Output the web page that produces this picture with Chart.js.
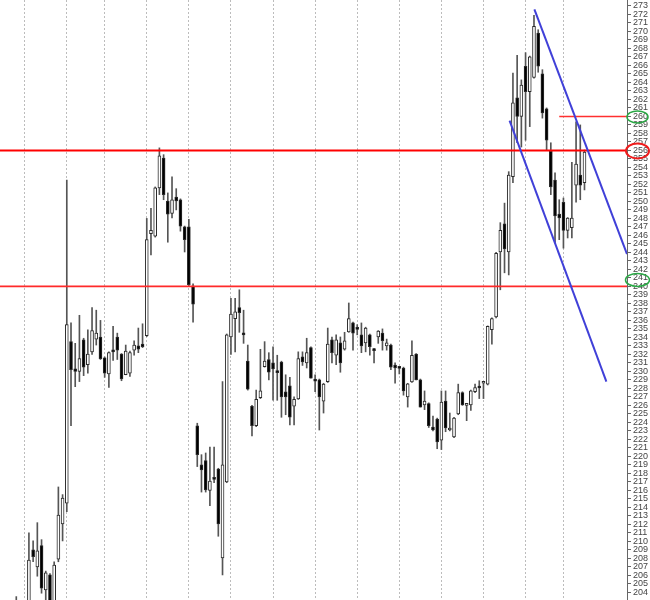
<!DOCTYPE html>
<html><head><meta charset="utf-8">
<script src="https://cdn.jsdelivr.net/npm/chart.js@4.4.1/dist/chart.umd.min.js"></script>
<style>html,body{margin:0;padding:0;background:#fff}#wrap{width:650px;height:600px;position:relative}</style>
</head><body><div id="wrap"><canvas id="c" width="650" height="600"></canvas></div>
<script>
// ---- data ----
const opens  = [199.0,198.5,200.2,201.5,202.0,200.5,202.0,209.0,207.0,209.5,204.3,206.05,202.8,207.9,212.05,214.5,233.5,230.3,230.0,233.7,230.8,232.3,233.8,234.05,231.6,229.7,232.5,234.05,232.05,229.6,229.8,232.5,233.0,233.2,234.2,246.2,245.9,251.6,255.1,250.05,248.6,250.5,250.2,247.0,247.0,240.05,223.6,219.0,219.5,216.0,217.5,218.5,208.05,217.0,234.05,236.2,237.5,234.5,231.2,225.9,223.6,226.9,230.55,231.4,231.0,229.95,231.1,227.6,228.3,225.9,226.75,231.7,231.0,232.8,228.95,229.0,226.5,228.8,233.7,231.9,233.35,232.6,234.65,235.7,235.05,234.3,233.35,234.3,232.55,234.05,234.5,233.0,233.1,230.75,230.45,230.4,227.0,228.75,232.05,229.0,226.05,226.2,223.45,224.4,221.9,226.5,223.1,222.3,225.0,227.5,226.0,226.05,227.6,228.2,228.6,228.5,234.9,236.4,244.05,247.35,244.05,252.9,262.2,260.0,265.9,262.9,264.6,269.8,265.0,260.9,255.9,252.5,248.5,249.9,246.6,246.9,251.9,253.1,252.2];
const highs  = [200.5,201.0,202.5,203.5,202.8,202.6,211.0,210.05,212.2,210.2,206.5,206.2,207.6,216.4,215.5,252.5,235.7,233.3,236.6,233.9,234.9,237.5,237.2,236.0,231.7,232.3,235.3,234.5,232.1,233.1,232.4,233.6,235.1,235.6,248.0,249.2,251.7,256.3,255.5,251.0,252.9,251.5,250.3,247.1,247.9,240.3,223.9,220.2,220.4,221.1,221.1,218.6,228.8,234.4,238.6,238.6,239.6,237.2,233.1,226.0,227.8,232.6,233.5,232.2,232.9,231.9,231.2,229.6,229.3,227.0,232.3,232.3,233.9,232.9,229.6,229.1,228.6,235.1,234.05,234.3,234.05,234.6,238.05,235.8,235.5,235.7,235.2,234.4,232.7,234.8,235.0,233.8,233.2,231.0,230.5,230.5,228.6,233.6,232.1,229.1,227.7,226.3,224.75,224.5,227.7,227.7,225.1,224.6,228.5,227.6,226.1,227.8,228.5,228.9,228.7,235.35,236.3,244.0,247.5,249.8,253.5,265.1,267.2,264.3,267.5,267.1,271.9,270.2,265.5,261.0,256.9,253.35,250.2,250.4,248.1,254.6,259.35,259.0,256.05];
const lows   = [197.5,197.8,199.0,200.5,199.5,199.8,201.5,207.6,205.9,203.9,202.9,202.0,202.3,207.6,210.05,213.5,223.6,228.2,228.8,229.5,229.8,232.0,233.1,231.4,229.3,228.1,231.3,231.4,228.9,229.6,229.4,231.9,232.2,232.8,234.1,243.7,245.8,250.8,250.2,245.2,248.05,249.0,246.5,244.05,240.1,235.8,218.8,215.8,215.8,214.2,216.9,210.6,206.05,216.9,232.0,232.3,234.6,233.3,227.8,222.4,223.5,226.8,230.5,229.0,226.6,226.6,224.6,224.9,223.7,223.7,226.7,230.7,230.4,229.2,227.6,223.1,225.1,228.7,231.0,230.8,229.9,232.5,234.6,232.5,234.3,232.2,232.3,231.9,231.0,233.3,232.5,232.5,230.2,228.6,229.7,227.2,225.8,228.7,229.0,225.8,225.5,223.4,223.0,220.9,220.8,222.9,223.0,222.2,224.9,226.0,224.2,225.4,227.5,226.8,226.8,228.4,233.2,236.3,239.6,241.6,241.35,252.2,256.9,256.4,257.2,258.8,264.5,265.2,259.8,256.05,250.8,245.1,245.5,244.5,245.7,245.7,249.9,250.2,251.35];
const closes = [198.5,200.2,201.5,202.0,200.5,202.0,207.8,208.2,208.9,204.5,206.3,202.5,207.2,213.1,215.1,235.5,230.2,230.0,231.5,230.5,232.05,234.8,234.5,231.5,229.8,232.2,232.3,232.5,229.1,232.4,232.2,233.1,232.6,232.9,245.5,246.6,251.6,255.35,250.8,248.5,250.2,250.05,247.1,245.5,240.2,237.9,220.2,218.4,216.05,217.1,217.3,212.05,219.0,234.3,236.75,237.0,236.9,234.3,227.9,223.6,226.7,227.7,231.2,229.9,230.3,229.85,227.0,227.0,224.6,226.7,231.5,231.1,232.2,229.2,228.85,227.0,228.5,233.2,232.2,233.7,231.0,233.6,236.2,234.5,234.95,233.0,235.1,232.9,232.45,234.75,233.6,233.35,230.5,230.4,230.35,227.7,228.55,231.9,229.0,225.8,226.5,223.6,223.1,221.7,226.4,223.35,223.3,224.5,227.5,226.05,226.1,227.7,228.1,228.05,228.65,235.3,236.2,243.9,246.6,244.4,253.1,261.6,260.0,263.7,262.9,267.0,270.6,265.9,260.4,257.2,251.7,248.3,248.05,246.6,248.05,248.05,254.4,251.9,255.8];
const gridIndices = [5,15,24,34,44,54,64,74,84,94,104,114,124,133];
const tickStart = 204, tickEnd = 273;
const levels = [256, 240];
const shortLevel = 260, shortLevelFrom = 132.0;
const upperChannel = [[126.1, 272.6], [148.1, 243.8]];
const lowerChannel = [[120.2, 259.5], [143.2, 228.8]];
const circledLabels = [260, 256, 241];
// --------------------------------------

const X_MIN = -0.87, X_MAX = 148.1, Y_MIN = 203.1, Y_MAX = 273.7;

const bodies = opens.map((o, i) => ({x: i, y: [o, closes[i]]}));
const wicks = lows.map((l, i) => ({x: i, y: [l, highs[i]]}));
const bodyColors = opens.map((o, i) => closes[i] >= o ? '#ffffff' : '#000000');

const lineDs = (pts, color, width) => ({
  type: 'line', data: pts.map(p => ({x: p[0], y: p[1]})),
  borderColor: color, borderWidth: width, pointRadius: 0, fill: false, tension: 0
});

const datasets = [
  lineDs(upperChannel, '#4040d8', 2),
  lineDs(lowerChannel, '#4040d8', 2),
  lineDs([[X_MIN, levels[0]], [X_MAX, levels[0]]], '#ff0000', 2),
  lineDs([[X_MIN, levels[1]], [X_MAX, levels[1]]], '#ff2a2a', 1.6),
  lineDs([[shortLevelFrom, shortLevel], [X_MAX, shortLevel]], '#ff3030', 1.5),
  {type: 'bar', data: bodies, backgroundColor: bodyColors, borderColor: '#2a2a2a', borderWidth: 1,
   barThickness: 3, borderSkipped: false, grouped: false, minBarLength: 2},
  {type: 'bar', data: wicks, backgroundColor: '#555555', borderWidth: 0,
   barThickness: 1, grouped: false}
];

const circlePlugin = {
  id: 'circles',
  afterDraw(chart) {
    const ys = chart.scales.y, ctx = chart.ctx, r = chart.chartArea.right;
    const styles = {260: ['#2aa845', 1.5, 10.5, 6], 256: ['#ee1c1c', 2, 11.5, 7.5], 241: ['#2aa845', 1.5, 12, 6.5]};
    circledLabels.forEach(v => {
      const s = styles[v];
      const py = ys.getPixelForValue(v) + (v === 241 ? 2 : 0.5);
      ctx.save();
      ctx.strokeStyle = s[0]; ctx.lineWidth = s[1];
      ctx.beginPath();
      ctx.ellipse(r + 10.5, py, s[2], s[3], 0, 0, Math.PI * 2);
      ctx.stroke();
      ctx.restore();
    });
  }
};

new Chart(document.getElementById('c'), {
  type: 'bar',
  data: {datasets},
  plugins: [circlePlugin],
  options: {
    responsive: false, animation: false,
    layout: {padding: 0},
    plugins: {legend: {display: false}, tooltip: {enabled: false}},
    scales: {
      x: {
        type: 'linear', min: X_MIN, max: X_MAX, offset: false,
        ticks: {display: false},
        afterBuildTicks(s) { s.ticks = gridIndices.map(v => ({value: v})); },
        afterFit(s) { s.height = 0; s.paddingLeft = 0; s.paddingRight = 0; },
        grid: {offset: false, drawTicks: false, color: '#bcbcbc', lineWidth: 1},
        border: {display: false, dash: [2, 2]}
      },
      y: {
        position: 'right', min: Y_MIN, max: Y_MAX,
        afterBuildTicks(s) {
          const t = []; for (let v = tickStart; v <= tickEnd; v++) t.push({value: v}); s.ticks = t;
        },
        afterFit(s) { s.width = 23; s.paddingTop = 0; s.paddingBottom = 0; },
        ticks: {autoSkip: false, padding: 2, color: '#444', font: {size: 9, family: 'Liberation Sans, Arial, sans-serif'}},
        grid: {drawOnChartArea: false, drawTicks: true, tickLength: 4, color: '#666'},
        border: {display: true, color: '#666'}
      }
    }
  }
});
</script></body></html>
